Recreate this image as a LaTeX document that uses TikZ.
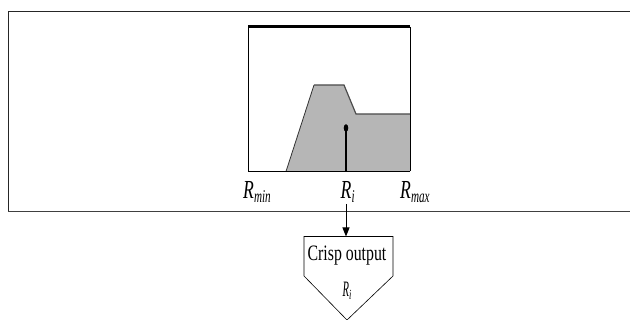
\documentclass[tikz,border=0pt]{standalone}
\usepackage{fontspec}
\setmainfont{Liberation Serif}
\usetikzlibrary{arrows.meta}
\newcommand{\bigR}{\scalebox{0.68}[1]{\fontsize{26}{26}\selectfont\textit{R}}}
\newcommand{\subt}[1]{\raisebox{-4pt}{\scalebox{0.62}[1]{\fontsize{18}{18}\selectfont\textit{#1}}}}
\tikzset{
  lbl/.style={inner sep=0pt, anchor=base west},
  graypart/.style={fill=gray!50!white!95!black, draw=none},
}
\begin{document}
\begin{tikzpicture}[x=1pt,y=-1pt]
\useasboundingbox (0,0) rectangle (630,320);
% outer frame
\draw[line width=1pt, black!85] (630,11.7) -- (8.3,11.7) -- (8.3,211.5);
\draw[line width=1.6pt, black!75] (8.3,211.5) -- (630,211.5);
% gray area
\fill[graypart] (286,171.5) -- (314,85) -- (344,85) -- (356,114) -- (410,114) -- (410,171.5) -- cycle;
\draw[line width=0.8pt, black!80] (286,171.5) -- (314,85);
\draw[line width=1.2pt, black!70] (314,85) -- (344,85) -- (356,114) -- (410,114);
% inner box
\draw[line width=0.8pt] (248,27) -- (248,171.5);
\draw[line width=0.8pt] (410,27) -- (410,171.5);
\draw[line width=1.4pt] (248,171.5) -- (410,171.5);
\draw[line width=3pt] (248,26.5) -- (410,26.5);
% defuzzified value
\coordinate (dot) at (346,128);
\coordinate (dotbase) at (346,171.5);
\fill (dot) ellipse [x radius=2.3pt, y radius=3.8pt];
\draw[line width=1.1pt] (dot) -- (dotbase);
% labels
\node[lbl] (rmin) at (243,199) {\bigR\subt{min}};
\node[lbl] (ri) at (340.5,199) {\bigR\subt{i}};
\node[lbl] (rmax) at (400,199) {\bigR\subt{max}};
% output pentagon
\coordinate (outtop) at (346,236.5);
\draw[line width=0.6pt] (304,236.5) -- (393,236.5) -- (393,276) -- (347,320) -- (304,276) -- cycle;
\node[lbl, anchor=base] (crisp) at (347,261) {\scalebox{0.72}[1]{\fontsize{22}{22}\selectfont Crisp output}};
\node[lbl] (rout) at (342.5,297) {\scalebox{0.48}[1]{\fontsize{22}{22}\selectfont\textit{R}}\raisebox{-3pt}{\scalebox{0.6}[1]{\fontsize{14}{14}\selectfont\textit{i}}}};
\draw[line width=1pt, -{Triangle[length=9pt,width=7pt]}] (346,204) -- (outtop);
\end{tikzpicture}
\end{document}
